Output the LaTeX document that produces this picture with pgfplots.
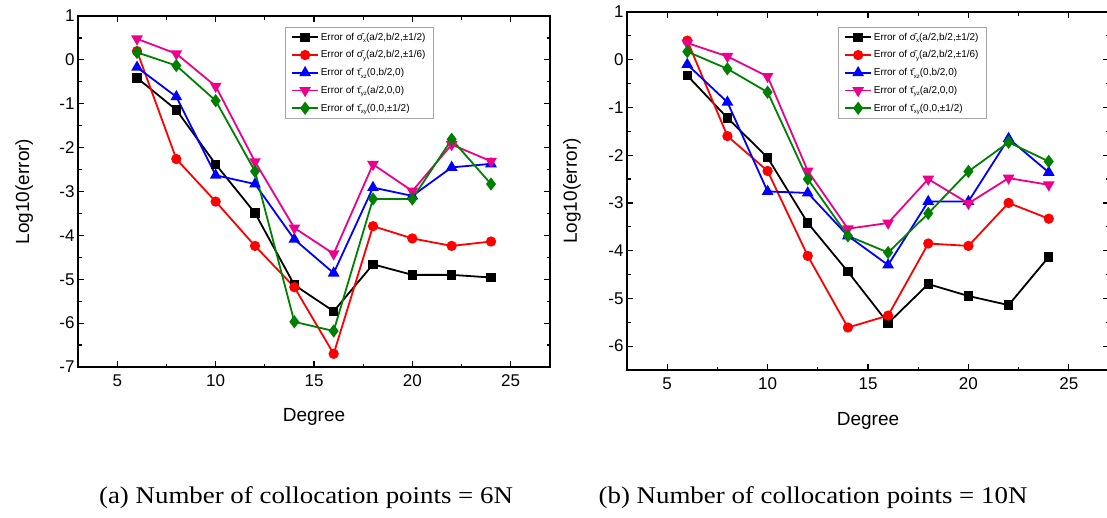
\documentclass[border=0pt]{standalone}
\usepackage{pgfplots}
\usepackage{pgfplotstable}
\pgfplotsset{compat=1.18}
\usepackage{fontspec}
\setmainfont{Liberation Sans}
\newfontfamily\capfont{Liberation Serif}

% Log10 of the errors, 6N collocation points
\pgfplotstableread{
deg   sx     sy     txz    tyz    txy
6    -0.41   0.20  -0.17   0.48   0.17
8    -1.14  -2.26  -0.84   0.14  -0.13
10   -2.38  -3.23  -2.63  -0.60  -0.93
12   -3.49  -4.24  -2.83  -2.32  -2.54
14   -5.13  -5.18  -4.09  -3.83  -5.97
16   -5.73  -6.70  -4.86  -4.42  -6.18
18   -4.66  -3.79  -2.91  -2.38  -3.17
20   -4.90  -4.07  -3.10  -2.99  -3.17
22   -4.90  -4.24  -2.45  -1.93  -1.81
24   -4.96  -4.14  -2.37  -2.31  -2.83
}\sixN

% Log10 of the errors, 10N collocation points
\pgfplotstableread{
deg   sx     sy     txz    tyz    txy
6    -0.33   0.40  -0.10   0.35   0.17
8    -1.22  -1.60  -0.89   0.07  -0.19
10   -2.05  -2.33  -2.76  -0.35  -0.68
12   -3.42  -4.11  -2.79  -2.33  -2.50
14   -4.44  -5.61  -3.69  -3.54  -3.69
16   -5.52  -5.36  -4.30  -3.42  -4.04
18   -4.70  -3.85  -2.97  -2.50  -3.22
20   -4.95  -3.90  -2.97  -3.01  -2.34
22   -5.14  -3.00  -1.65  -2.48  -1.73
24   -4.13  -3.33  -2.36  -2.62  -2.13
}\tenN

\definecolor{ogreen}{RGB}{0,128,0}

% small lowered subscript set in the text font
\newcommand{\sub}[1]{\raisebox{-0.45ex}{\fontsize{6}{6}\selectfont #1}}

\pgfplotsset{
  errplot/.style={
    scale only axis,
    xmin=3, xmax=27,
    xtick={5,10,...,25},
    minor x tick num=1, minor y tick num=1,
    tick align=inside,
    major tick length=6pt, minor tick length=3.5pt,
    axis line style={line width=1.4pt},
    every tick/.style={line width=1.2pt, black},
    tick label style={font=\fontsize{17}{20}\selectfont},
    xticklabel style={yshift=-4pt},
    xlabel={Degree}, ylabel={Log10(error)},
    every axis x label/.style={at={(axis description cs:0.5,-0.142)}, anchor=center,
      font=\fontsize{19}{22}\selectfont},
    every axis y label/.style={at={(axis description cs:-0.114,0.5)}, rotate=90, anchor=center,
      font=\fontsize{19}{22}\selectfont},
    /pgf/number format/assume math mode=true,
    legend cell align=left,
    legend style={font=\fontsize{10}{11}\selectfont, draw=gray!70,
      line width=0.8pt, anchor=north west, row sep=5pt,
      inner xsep=6pt, inner ysep=3.5pt},
    legend image code/.code={
      \draw[mark repeat=2,mark phase=2] plot coordinates {(0cm,0cm) (0.45cm,0cm) (0.9cm,0cm)};},
    every axis plot/.append style={line width=1.8pt},
  },
  sxs/.style={black, mark=square*, mark size=3.8pt},
  sys/.style={red, mark=*, mark size=4.2pt},
  txzs/.style={blue, mark=triangle*, mark size=5pt},
  tyzs/.style={magenta, mark=triangle*, mark size=5pt, mark options={rotate=180}},
  txys/.style={ogreen, mark=diamond*, mark size=5.2pt},
}

\newcommand{\legendentries}{%
  \addlegendentry{Error of \={σ}\sub{x}(a/2,b/2,±1/2)}
  \addlegendentry{Error of \={σ}\sub{y}(a/2,b/2,±1/6)}
  \addlegendentry{Error of \={τ}\sub{xz}(0,b/2,0)}
  \addlegendentry{Error of \={τ}\sub{yz}(a/2,0,0)}
  \addlegendentry{Error of \={τ}\sub{xy}(0,0,±1/2)}}

\begin{document}
\begin{tikzpicture}[x=1pt,y=1pt]
\path[use as bounding box] (0,0) rectangle (1107,517);

\begin{axis}[errplot, at={(78pt,150pt)}, anchor=south west,
  width=472pt, height=351pt,
  ymin=-7, ymax=1, ytick={-7,-6,...,1},
  legend style={at={(0.4386,0.9687)}}]
\addplot[sxs]  table[x=deg,y=sx]  {\sixN};
\addplot[sys]  table[x=deg,y=sy]  {\sixN};
\addplot[txzs] table[x=deg,y=txz] {\sixN};
\addplot[tyzs] table[x=deg,y=tyz] {\sixN};
\addplot[txys] table[x=deg,y=txy] {\sixN};
\legendentries
\end{axis}

\begin{axis}[errplot, at={(627pt,147pt)}, anchor=south west,
  width=482pt, height=358pt,
  ymin=-6.5, ymax=1, ytick={-6,-5,...,1},
  legend style={at={(0.4378,0.958)}}]
\addplot[sxs]  table[x=deg,y=sx]  {\tenN};
\addplot[sys]  table[x=deg,y=sy]  {\tenN};
\addplot[txzs] table[x=deg,y=txz] {\tenN};
\addplot[tyzs] table[x=deg,y=tyz] {\tenN};
\addplot[txys] table[x=deg,y=txy] {\tenN};
\legendentries
\end{axis}

\node[font=\capfont\fontsize{24}{28}\selectfont, xscale=1.12] at (306,19) {(a) Number of collocation points = 6N};
\node[font=\capfont\fontsize{24}{28}\selectfont, xscale=1.12] at (813,19) {(b) Number of collocation points = 10N};
\end{tikzpicture}
\end{document}
